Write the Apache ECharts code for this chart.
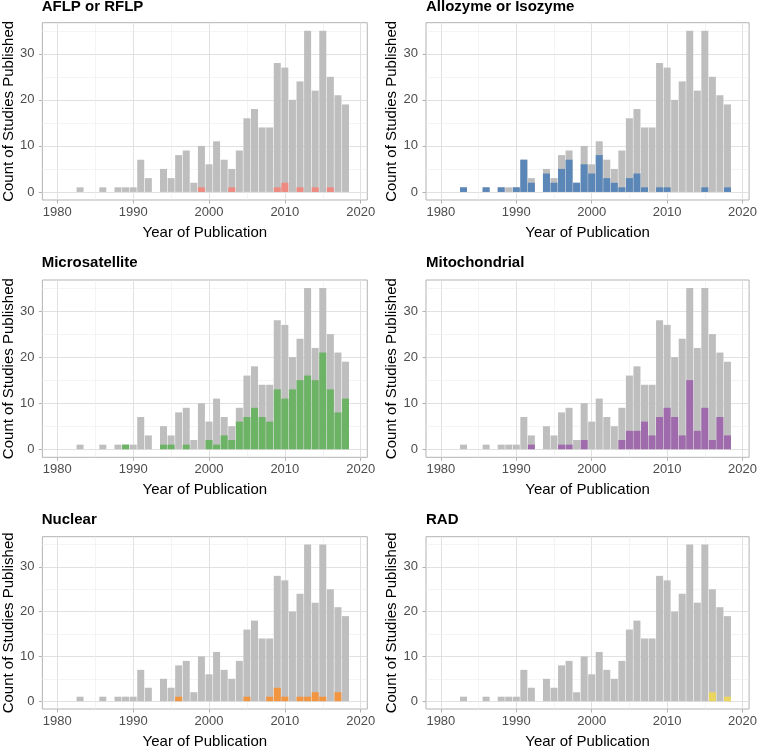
<!DOCTYPE html>
<html>
<head>
<meta charset="utf-8">
<script src="https://cdn.jsdelivr.net/npm/echarts@6/dist/echarts.min.js"></script>
<style>html,body{margin:0;padding:0;background:#fff}#c{width:760px;height:750px}</style>
</head>
<body>
<div id="c"></div>
<script>
// Years of publication (one bin per year)
const years = [1983,1984,1985,1986,1987,1988,1989,1990,1991,1992,1993,1994,1995,1996,1997,1998,1999,2000,2001,2002,2003,2004,2005,2006,2007,2008,2009,2010,2011,2012,2013,2014,2015,2016,2017,2018];
// Total studies per year (grey background in every panel)
const totalCounts = [1,0,0,1,0,1,1,1,7,3,0,5,3,8,9,2,10,6,11,7,5,9,16,18,14,14,28,27,20,24,35,22,35,25,21,19];
// Studies per marker type per year
const aflpCounts      = [0,0,0,0,0,0,0,0,0,0,0,0,0,0,0,0,1,0,0,0,1,0,0,0,0,0,1,2,0,1,0,1,0,1,0,0];
const allozymeCounts  = [1,0,0,1,0,1,0,1,7,2,0,4,2,5,7,2,6,4,8,3,2,1,3,4,1,0,1,1,0,0,0,0,1,0,0,1];
const microsatCounts  = [0,0,0,0,0,0,1,0,0,0,0,1,1,0,1,0,0,2,1,3,2,6,7,9,7,6,13,11,13,15,16,15,21,13,8,11];
const mitoCounts      = [0,0,0,0,0,0,0,0,0,1,0,0,0,1,1,0,2,0,0,0,0,2,4,4,6,3,7,9,7,3,15,4,9,2,7,3];
const nuclearCounts   = [0,0,0,0,0,0,0,0,0,0,0,0,0,1,0,0,0,0,0,0,0,0,1,0,0,1,3,1,0,1,1,2,1,0,2,0];
const radCounts       = [0,0,0,0,0,0,0,0,0,0,0,0,0,0,0,0,0,0,0,0,0,0,0,0,0,0,0,0,0,0,0,0,0,2,0,1];
const panelTitles = ['AFLP or RFLP','Allozyme or Isozyme','Microsatellite','Mitochondrial','Nuclear','RAD'];
const panelCounts = [aflpCounts, allozymeCounts, microsatCounts, mitoCounts, nuclearCounts, radCounts];
const panelColors = ['#EE8A82','#5B87B8','#6CB365','#A06BAC','#F29541','#EAD55E'];
const xTickValues = [1980,1990,2000,2010,2020];
const xMinorValues = [1985,1995,2005,2015];
const yTickValues = [0,10,20,30];
const yMinorValues = [5,15,25,35];

const FONT = '"Liberation Sans", Arial, Helvetica, sans-serif';
const colLeft = [41.7, 426];
const rowTop = [22.7, 280, 536.7];
const titleY = [6.7, 263.3, 519.5];
const W = 325.6, H = 177.3;

function pairs(arr){
  const out = [];
  for (let i = 0; i < years.length; i++) if (arr[i] > 0) out.push([years[i], arr[i]]);
  return out;
}

const grid = [], xAxis = [], yAxis = [], series = [], graphic = [];
for (let i = 0; i < 6; i++) {
  const col = i % 2, row = Math.floor(i / 2);
  grid.push({left: colLeft[col], top: rowTop[row], width: W, height: H,
    show: true, borderColor: '#B3B3B3', borderWidth: 1, backgroundColor: 'transparent'});
  xAxis.push({type: 'value', gridIndex: i, min: 1978.03, max: 2020.87,
    axisLine: {show: false, onZero: false},
    axisTick: {show: true, customValues: xTickValues, length: 3.5, lineStyle: {color: '#B3B3B3', width: 1}},
    axisLabel: {customValues: xTickValues, color: '#4D4D4D', fontSize: 13, margin: 6, fontFamily: FONT,
      formatter: v => String(Math.round(v))},
    splitLine: {show: false},
    name: 'Year of Publication', nameLocation: 'middle', nameGap: 25,
    nameTextStyle: {color: '#000', fontSize: 15, fontFamily: FONT}});
  yAxis.push({type: 'value', gridIndex: i, min: -1.75, max: 36.75,
    axisLine: {show: false},
    axisTick: {show: true, customValues: yTickValues, length: 3.5, lineStyle: {color: '#B3B3B3', width: 1}},
    axisLabel: {customValues: yTickValues, color: '#4D4D4D', fontSize: 13, margin: 8, fontFamily: FONT,
      formatter: v => String(Math.round(v))},
    splitLine: {show: false},
    name: 'Count of Studies Published', nameLocation: 'middle', nameRotate: 90, nameGap: 25,
    nameTextStyle: {color: '#000', fontSize: 15, fontFamily: FONT}});
  const lines = [];
  xTickValues.forEach(v => lines.push({xAxis: v, lineStyle: {color: '#DEDEDE', width: 0.9, type: 'solid'}}));
  yTickValues.forEach(v => lines.push({yAxis: v, lineStyle: {color: '#DEDEDE', width: 0.9, type: 'solid'}}));
  xMinorValues.forEach(v => lines.push({xAxis: v, lineStyle: {color: '#EDEDED', width: 0.6, type: 'solid'}}));
  yMinorValues.forEach(v => lines.push({yAxis: v, lineStyle: {color: '#EDEDED', width: 0.6, type: 'solid'}}));
  series.push({type: 'bar', xAxisIndex: i, yAxisIndex: i, data: pairs(totalCounts),
    barWidth: 7, barGap: '-100%', itemStyle: {color: '#BEBEBE'}, z: 2, silent: true, animation: false,
    markLine: {silent: true, symbol: 'none', z: 1, animation: false, label: {show: false},
      emphasis: {disabled: true}, data: lines}});
  series.push({type: 'bar', xAxisIndex: i, yAxisIndex: i, data: pairs(panelCounts[i]),
    barWidth: 7, barGap: '-100%', itemStyle: {color: panelColors[i]}, z: 3, silent: true, animation: false});
  graphic.push({type: 'text', x: colLeft[col], y: titleY[row],
    style: {text: panelTitles[i], font: 'bold 15px ' + FONT, fill: '#000',
      textVerticalAlign: 'middle', verticalAlign: 'middle', align: 'left'}});
}

const chart = echarts.init(document.getElementById('c'), null, {renderer: 'canvas'});
chart.setOption({animation: false, textStyle: {fontFamily: FONT}, grid, xAxis, yAxis, series, graphic});
</script>
</body>
</html>
